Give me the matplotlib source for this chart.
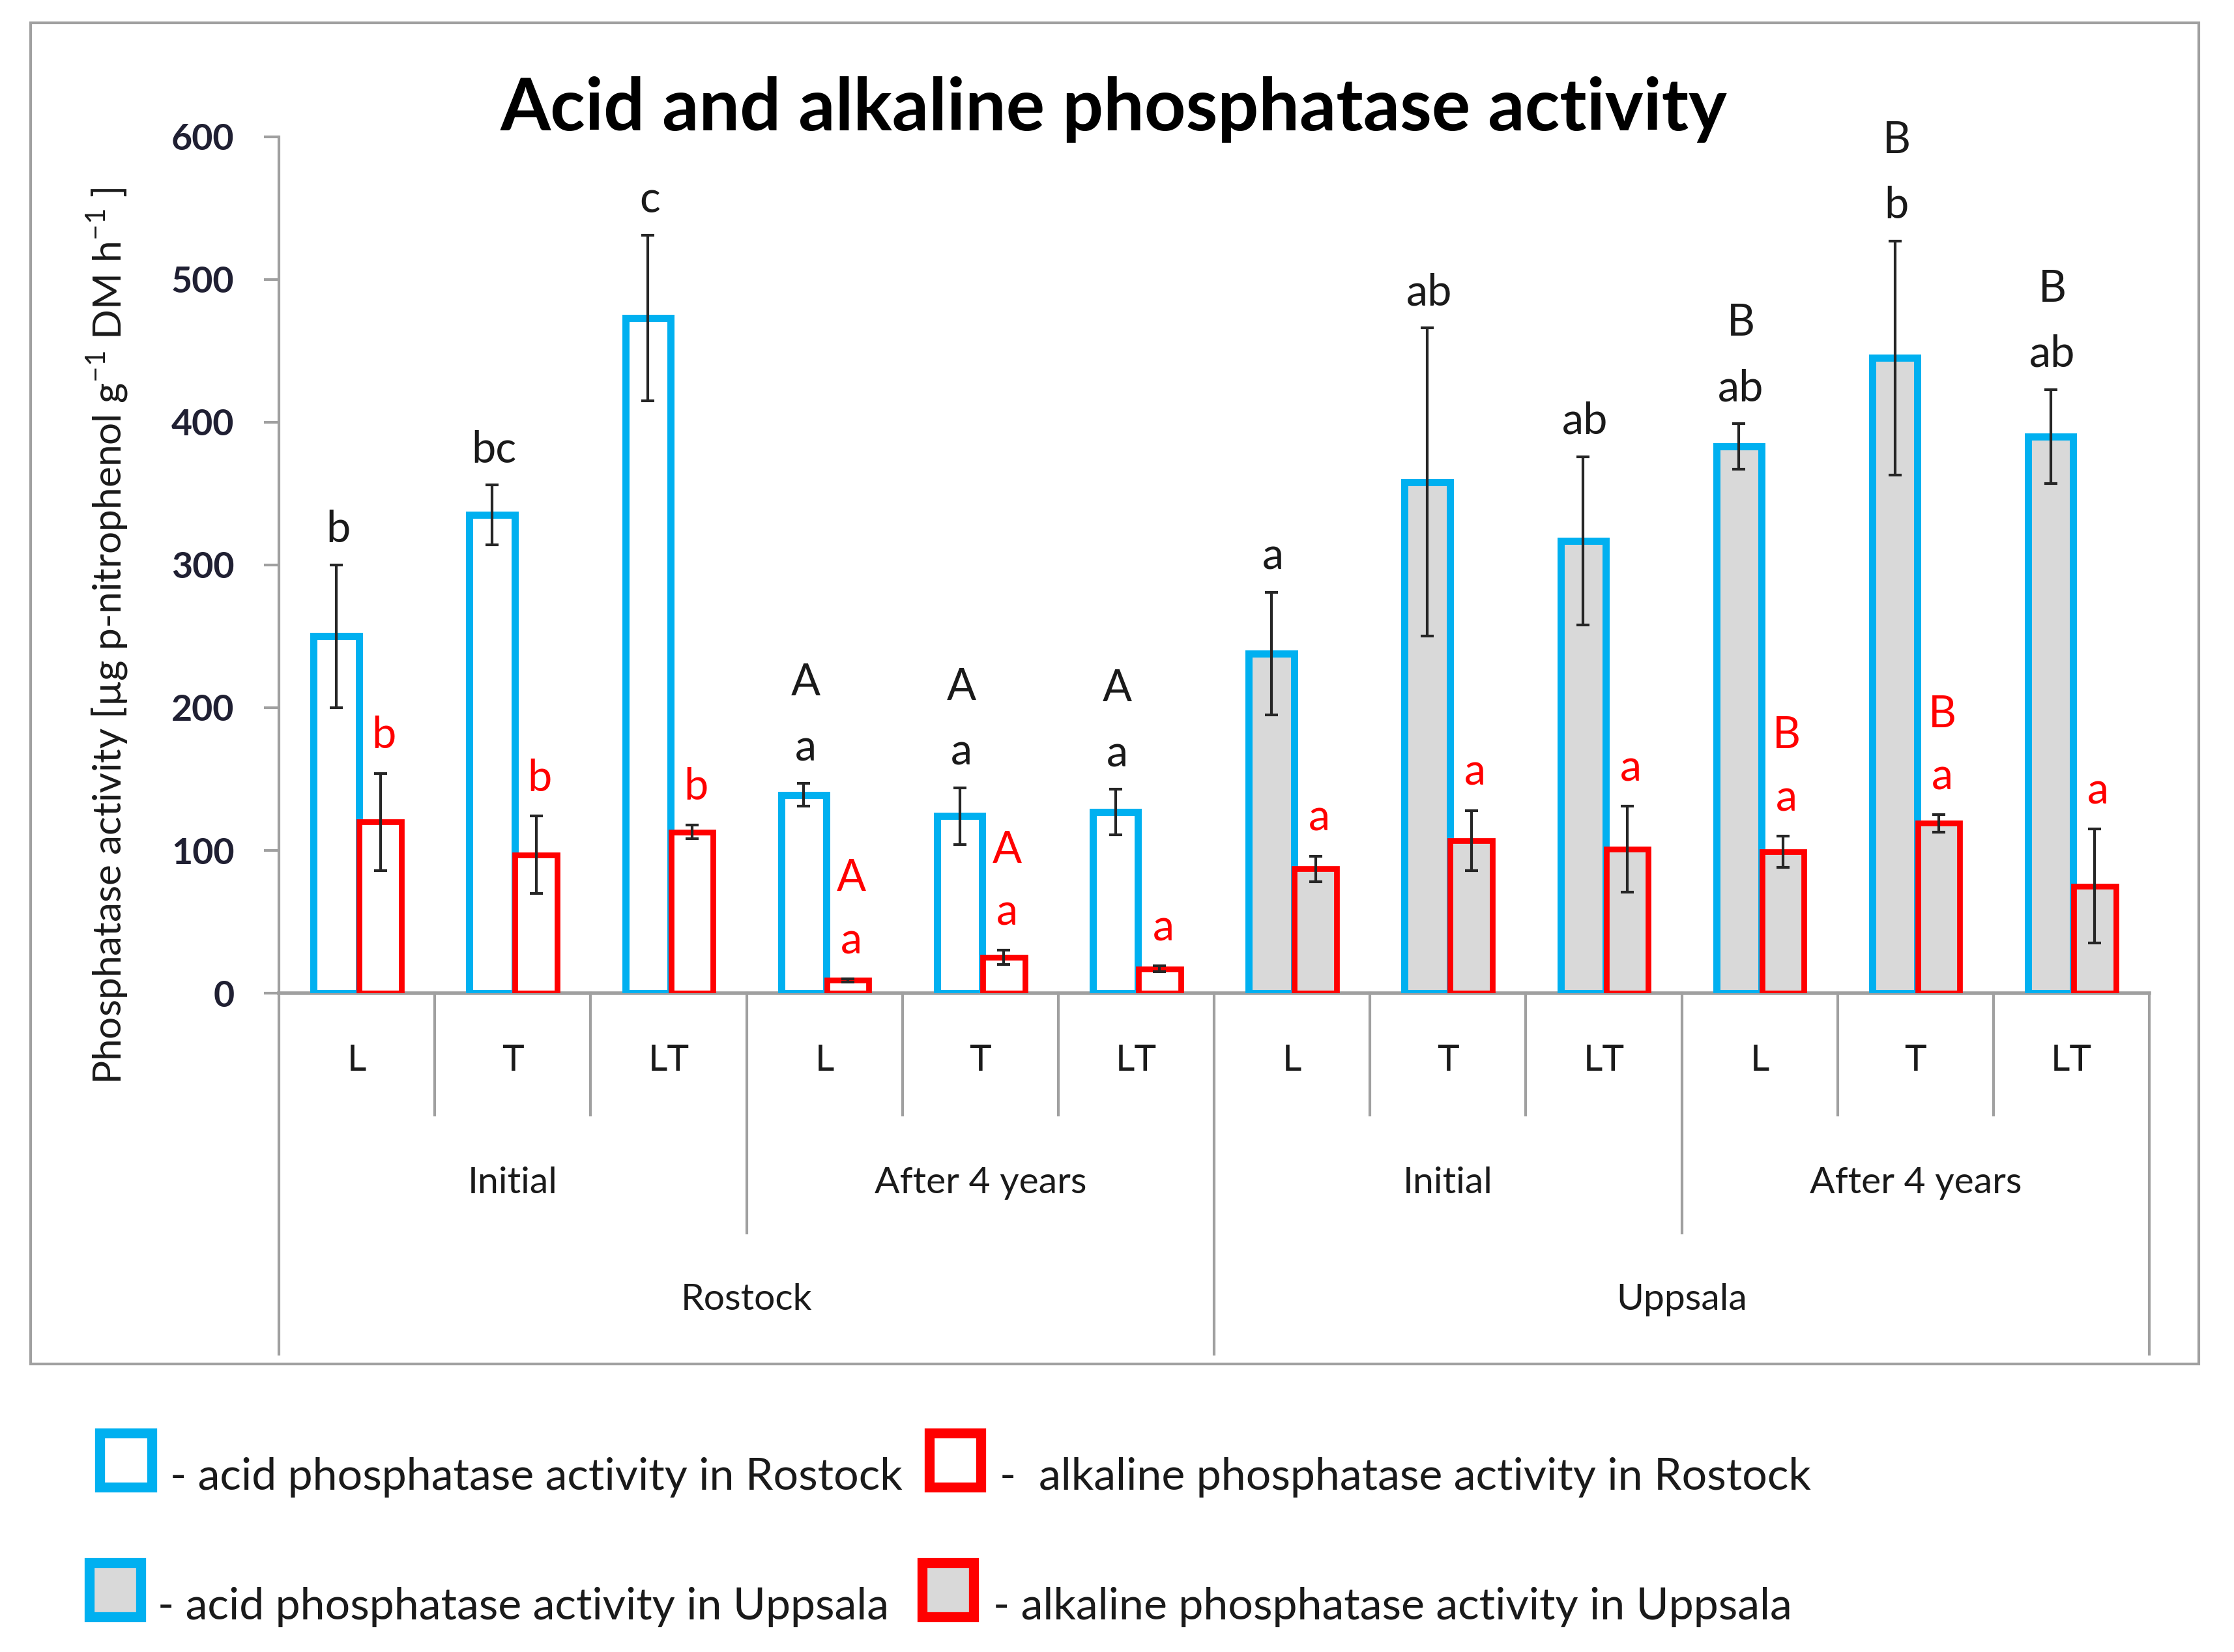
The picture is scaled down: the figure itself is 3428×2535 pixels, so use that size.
import matplotlib
matplotlib.use('Agg')
import matplotlib.pyplot as plt
import matplotlib.transforms as mtransforms
from matplotlib.patches import Rectangle
import numpy as np

plt.rcParams['font.family'] = ['Lato', 'DejaVu Sans']
plt.rcParams['mathtext.fontset'] = 'custom'
plt.rcParams['mathtext.rm'] = 'Lato'

# data
treatments = ['L', 'T', 'LT'] * 4
periods = ['Initial', 'After 4 years', 'Initial', 'After 4 years']
sites = ['Rostock', 'Uppsala']
site_of_bar = ['Rostock'] * 6 + ['Uppsala'] * 6

acid = [250, 335, 473, 139, 124, 127, 238, 358, 317, 383, 445, 390]
acid_err = [50, 21, 58, 8, 20, 16, 43, 108, 59, 16, 82, 33]
alk = [120, 97, 113, 9, 25, 17, 87, 107, 101, 99, 119, 75]
alk_err = [34, 27, 5, 1, 5, 2, 9, 21, 30, 11, 6, 40]

acid_low = ['b', 'bc', 'c', 'a', 'a', 'a', 'a', 'ab', 'ab', 'ab', 'b', 'ab']
acid_up = ['', '', '', 'A', 'A', 'A', '', '', '', 'B', 'B', 'B']
alk_low = ['b', 'b', 'b', 'a', 'a', 'a', 'a', 'a', 'a', 'a', 'a', 'a']
alk_up = ['', '', '', 'A', 'A', '', '', '', '', 'B', 'B', '']

blue = '#00B0F0'
red = '#FF0000'
grey_fill = '#D9D9D9'
line_grey = '#A0A0A0'
txt = '#1A1A1A'

fig = plt.figure(figsize=(34.28, 25.35), dpi=100)
fig.patches.append(Rectangle((0.0137, 0.1744), 0.9706, 0.8118, transform=fig.transFigure,
                             fill=False, edgecolor=line_grey, linewidth=3))

ax = fig.add_axes([0.1249, 0.3988, 0.9621 - 0.1249, 0.9172 - 0.3988])
x = np.arange(len(treatments))
fills = ['white' if s == 'Rostock' else grey_fill for s in site_of_bar]

ax.bar(x - 0.133, acid, width=0.29, color=fills, edgecolor=blue, linewidth=7.9, zorder=2)
ax.bar(x + 0.15, alk, width=0.27, color=fills, edgecolor=red, linewidth=6.3, zorder=3)
ax.errorbar(x - 0.133, acid, yerr=acid_err, fmt='none', ecolor='#262626',
            elinewidth=3, capsize=7.3, capthick=3, zorder=4)
ax.errorbar(x + 0.15, alk, yerr=alk_err, fmt='none', ecolor='#262626',
            elinewidth=3, capsize=7.3, capthick=3, zorder=4)

# significance letters
for i in range(len(x)):
    top_a = acid[i] + acid_err[i]
    top_r = alk[i] + alk_err[i]
    ax.annotate(acid_low[i], (x[i] - 0.133, top_a), xytext=(2, 25), textcoords='offset points',
                ha='center', va='baseline', fontsize=48, color=txt)
    ax.annotate(acid_up[i], (x[i] - 0.133, top_a), xytext=(2, 97), textcoords='offset points',
                ha='center', va='baseline', fontsize=48, color=txt)
    ax.annotate(alk_low[i], (x[i] + 0.15, top_r), xytext=(4, 28), textcoords='offset points',
                ha='center', va='baseline', fontsize=48, color=red)
    ax.annotate(alk_up[i], (x[i] + 0.15, top_r), xytext=(4, 97), textcoords='offset points',
                ha='center', va='baseline', fontsize=48, color=red)

ax.set_xlim(-0.5, len(x) - 0.5)
ax.set_ylim(0, 600)
ax.set_yticks(np.arange(0, 601, 100))
ax.tick_params(axis='y', length=16.5, width=3, color=line_grey, pad=33,
               labelsize=40, labelcolor='#202033')
for lab in ax.get_yticklabels():
    lab.set_fontweight('bold')
ax.set_xticks([])
for s in ['top', 'right', 'left']:
    ax.spines[s].set_visible(False)
ax.spines['bottom'].set_color(line_grey)
ax.spines['bottom'].set_linewidth(4)
ax.spines['bottom'].set_zorder(1)

# multi-level category axis
trans = mtransforms.blended_transform_factory(ax.transData, ax.transAxes)
ax.plot([-0.5, -0.5], [1.0, -0.4216], transform=trans, color=line_grey, lw=3, clip_on=False)
for b in np.arange(0.5, len(x) - 0.5, 1.0):
    depth = -0.1423
    if b in (2.5, 8.5):
        depth = -0.280
    if b == 5.5:
        depth = -0.4216
    ax.plot([b, b], [0, depth], transform=trans, color=line_grey, lw=3, clip_on=False)
ax.plot([len(x) - 0.5] * 2, [0, -0.4216], transform=trans, color=line_grey, lw=3, clip_on=False)

for i, t in enumerate(treatments):
    ax.text(i, -0.0784, t, transform=trans, ha='center', va='center', fontsize=41, color=txt)
for j, p in enumerate(periods):
    ax.text(3 * j + 1, -0.2215, p, transform=trans, ha='center', va='center', fontsize=41, color=txt)
for j, s in enumerate(sites):
    ax.text(6 * j + 2.5, -0.3577, s, transform=trans, ha='center', va='center', fontsize=41, color=txt)

fig.text(0.0481, 0.615, r'Phosphatase activity [µg p-nitrophenol g$^{-1}$ DM h$^{-1}$ ]',
         rotation=90, ha='center', va='center', fontsize=43.5, color=txt)
fig.text(0.4985, 0.9211, 'Acid and alkaline phosphatase activity', ha='center', va='baseline',
         fontsize=80, fontweight='bold', color='black')

# legend drawn by hand
legend_items = [
    (0.0563, 0.116, 'white', blue, 0.0760, 0.0982, '- acid phosphatase activity in Rostock'),
    (0.4274, 0.116, 'white', red, 0.4475, 0.0982, '-  alkaline phosphatase activity in Rostock'),
    (0.0516, 0.0375, grey_fill, blue, 0.0705, 0.0197, '- acid phosphatase activity in Uppsala'),
    (0.4243, 0.0375, grey_fill, red, 0.4446, 0.0197, '- alkaline phosphatase activity in Uppsala'),
]
bw, bh = 0.02305, 0.0327
for cx, cy, fc, ec, tx, ty, label in legend_items:
    fig.patches.append(Rectangle((cx - bw / 2, cy - bh / 2), bw, bh, transform=fig.transFigure,
                                 facecolor=fc, edgecolor=ec, linewidth=11))
    fig.text(tx, ty, label, ha='left', va='baseline', fontsize=49, color=txt)

fig.savefig('out.png', dpi=100, facecolor='white')
